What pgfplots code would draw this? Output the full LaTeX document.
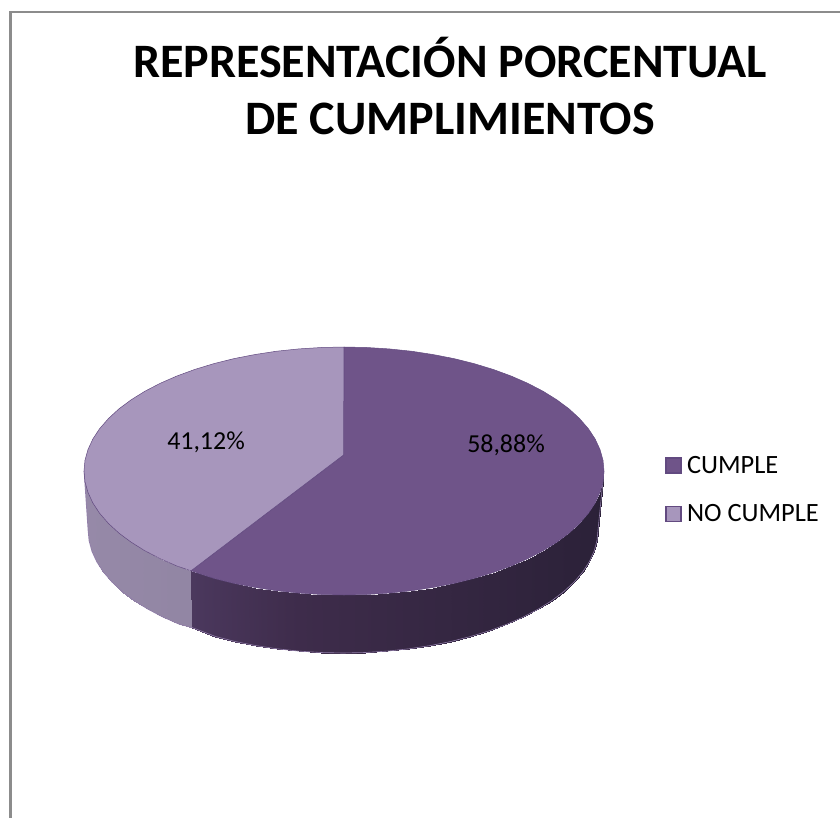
\documentclass[border=0pt]{standalone}
\usepackage{fontspec}
\setmainfont{Carlito}
\usepackage{pgfplots}
\usepackage{pgfplotstable}
\pgfplotsset{compat=1.18}

\definecolor{cumple}{RGB}{111,84,137}
\definecolor{nocumple}{RGB}{167,150,188}
\definecolor{edge}{RGB}{98,74,128}

% pie outline in picture pixels, y running down
\pgfplotstableread{
x y
343.5 455
344 347
366.7 347.5
389.1 348.9
411.3 351.2
432.9 354.5
453.9 358.6
474 363.6
493.1 369.4
511.1 376
527.8 383.3
543.2 391.3
557 399.9
569.2 409
579.6 418.6
588.3 428.6
595.1 438.9
600 449.5
603 460.2
604 471
603 481.8
600 492.5
595.1 503.1
588.3 513.4
579.6 523.4
569.2 533
557 542.1
543.2 550.7
527.8 558.7
511.1 566
493.1 572.6
474 578.4
453.9 583.4
432.9 587.5
411.3 590.8
389.1 593.1
366.7 594.5
344 595
321.3 594.5
298.9 593.1
276.7 590.8
255.1 587.5
234.1 583.4
214 578.4
191 570.8
343.5 455
}\slicecumple

\pgfplotstableread{
x y
343.5 455
191 570.8
176.9 566
160.2 558.7
144.8 550.7
131 542.1
118.8 533
108.4 523.4
99.7 513.4
92.9 503.1
88 492.5
85 481.8
84 471
85 460.2
88 449.5
92.9 438.9
99.7 428.6
108.4 418.6
118.8 409
131 399.9
144.8 391.3
160.2 383.3
176.9 376
194.9 369.4
214 363.6
234.1 358.6
255.1 354.5
276.7 351.2
298.9 348.9
321.3 347.5
344 347
343.5 455
}\slicenocumple

% side walls: upper rim, then lower rim
\pgfplotstableread{
x y
84 471
85 481.8
88 492.5
92.9 503.1
99.7 513.4
108.4 523.4
118.8 533
131 542.1
144.8 550.7
160.2 558.7
176.9 566
191 570.8
88 530
89 540.7
91.9 551.4
96.7 561.8
103.4 572.1
111.9 582
122.2 591.5
134.1 600.6
147.7 609.1
162.7 617
179.1 624.2
192 627.5
}\sidenocumple

\pgfplotstableread{
x y
191 570.8
214 578.4
234.1 583.4
255.1 587.5
276.7 590.8
298.9 593.1
321.3 594.5
344 595
366.7 594.5
389.1 593.1
411.3 590.8
432.9 587.5
453.9 583.4
474 578.4
493.1 572.6
511.1 566
527.8 558.7
543.2 550.7
557 542.1
569.2 533
579.6 523.4
588.3 513.4
595.1 503.1
600 492.5
603 481.8
604 471
192 627.5
215.5 636.5
235.2 641.5
255.8 645.6
277 648.8
298.7 651.1
320.8 652.5
343 653
365.2 652.5
387.3 651.1
409 648.8
430.2 645.6
450.8 641.5
470.5 636.5
489.3 630.8
506.9 624.2
523.3 617
538.3 609.1
551.9 600.6
563.8 591.5
574.1 582
582.6 572.1
589.3 561.8
594.1 551.4
597 540.7
598 530
}\sidecumple

\pgfplotstableread{
x y
84 471
88 530
89 540.7
91.9 551.4
96.7 561.8
103.4 572.1
111.9 582
122.2 591.5
134.1 600.6
147.7 609.1
162.7 617
179.1 624.2
192 627.5
215.5 636.5
235.2 641.5
255.8 645.6
277 648.8
298.7 651.1
320.8 652.5
343 653
365.2 652.5
387.3 651.1
409 648.8
430.2 645.6
450.8 641.5
470.5 636.5
489.3 630.8
506.9 624.2
523.3 617
538.3 609.1
551.9 600.6
563.8 591.5
574.1 582
582.6 572.1
589.3 561.8
594.1 551.4
597 540.7
598 530
604 471
}\lowerrim

\begin{document}
\begin{tikzpicture}
\begin{axis}[
    scale only axis,
    width=840bp, height=818bp,
    xmin=0, xmax=840,
    ymin=0, ymax=818,
    y dir=reverse,
    hide axis,
    colormap={lightwall}{rgb255(0pt)=(150,137,168); rgb255(107pt)=(128,120,146)},
    colormap={darkwall}{rgb255(0pt)=(88,68,112); rgb255(170pt)=(62,44,75); rgb255(413pt)=(43,33,56)},
    legend cell align=left,
    legend style={
        inner sep=0pt, draw=none, fill=none,
        anchor=north west, at={(axis cs:665,454)},
        font=\fontsize{26.5}{26.5}\selectfont,
        /tikz/row sep=26bp, /tikz/column sep=3.5bp
    },
    legend image code/.code={
        \draw[#1, draw=edge, line width=1.4bp] (0bp,-7.5bp) rectangle (15bp,7.5bp);
    }
]
% chart frame
\addplot[color=black!45, line width=2bp, forget plot] coordinates {(10.5,818) (10.5,11.8) (840,11.8)};

\addplot[surf, shader=interp, mesh/rows=2, point meta=x, colormap name=lightwall, forget plot] table {\sidenocumple};
\addplot[surf, shader=interp, mesh/rows=2, point meta=x, colormap name=darkwall, forget plot] table {\sidecumple};
\addplot[color=nocumple!70!edge, line width=0.6bp, forget plot] table {\lowerrim};

\addplot[fill=cumple, draw=edge, line width=0.5bp] table {\slicecumple};
\addlegendentry{CUMPLE}
\addplot[fill=nocumple, draw=edge, line width=0.5bp] table {\slicenocumple};
\addlegendentry{NO CUMPLE}

\node at (axis cs:506,445) {\fontsize{26}{26}\selectfont 58,88\%};
\node at (axis cs:206,442) {\fontsize{26}{26}\selectfont 41,12\%};
\node[align=center, font=\fontsize{48.2}{58}\selectfont\bfseries] at (axis cs:450,86)
    {REPRESENTACIÓN PORCENTUAL\\DE CUMPLIMIENTOS};
\end{axis}
\pgfresetboundingbox
\path (0,0) rectangle (840bp,818bp);
\end{tikzpicture}
\end{document}
